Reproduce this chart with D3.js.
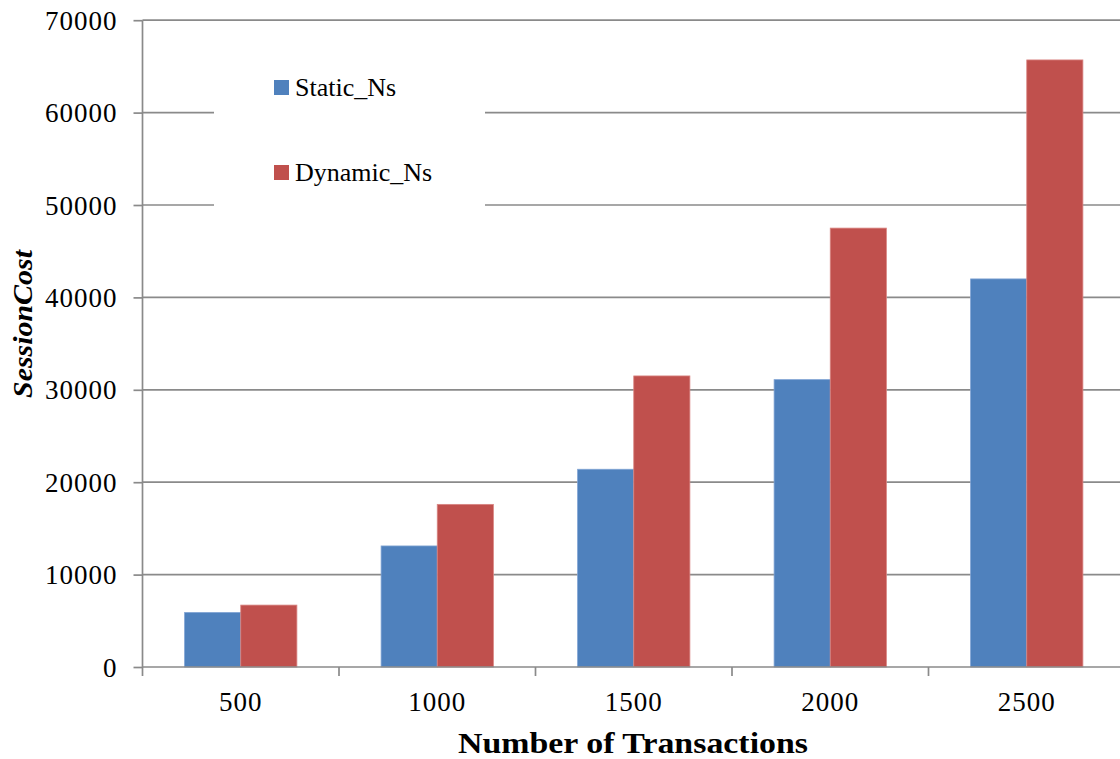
<!DOCTYPE html>
<html>
<head>
<meta charset="utf-8"/>
<title>Session Cost</title>
<style>
  body { margin: 0; background: #fff; }
  text { font-family: "Liberation Serif", serif; fill: #000; }
  .grid line { stroke: #8a8a8a; stroke-width: 1.7px; }
  .axis path, .axis line { stroke: #8a8a8a; stroke-width: 1.7px; }
</style>
</head>
<body>
<svg width="1120" height="759"></svg>
<script src="https://d3js.org/d3.v7.min.js"></script>
<script>
// data
var categories = ["500", "1000", "1500", "2000", "2500"];
var seriesNames = ["Static_Ns", "Dynamic_Ns"];
var staticNs = [5900, 13100, 21400, 31100, 42000];
var dynamicNs = [6700, 17600, 31500, 47500, 65700];
var yTicks = [0, 10000, 20000, 30000, 40000, 50000, 60000, 70000];
var colors = ["#4f81bd", "#c0504d"];

var svg = d3.select("svg");
var plotLeft = 142.5, plotRight = 1125, plotTop = 20.2, plotBottom = 667;

var x = d3.scaleBand().domain(categories).range([plotLeft, plotRight]).paddingInner(0).paddingOuter(0);
// Excel gap width 150%: bars take 2 / 3.5 of each band
var inner = x.bandwidth() * 2 / 3.5;
var xs = d3.scaleBand().domain(seriesNames).range([0, inner]);
var y = d3.scaleLinear().domain([0, 70000]).range([plotBottom, plotTop]);

// gridlines
svg.append("g").attr("class", "grid")
  .selectAll("line").data(yTicks.filter(d => d > 0)).enter().append("line")
  .attr("x1", plotLeft).attr("x2", 1120)
  .attr("y1", d => y(d)).attr("y2", d => y(d));

// bars
var rows = categories.map((c, i) => ({cat: c, vals: [staticNs[i], dynamicNs[i]]}));
var groups = svg.append("g").selectAll("g").data(rows).enter().append("g")
  .attr("transform", d => "translate(" + (x(d.cat) + (x.bandwidth() - inner) / 2) + ",0)");
groups.selectAll("rect").data(d => d.vals.map((v, j) => ({name: seriesNames[j], v: v, j: j})))
  .enter().append("rect")
  .attr("x", d => xs(d.name))
  .attr("width", xs.bandwidth())
  .attr("y", d => y(d.v))
  .attr("height", d => plotBottom - y(d.v))
  .attr("fill", d => colors[d.j])
  .attr("stroke", d => d.j == 0 ? "#7fa3d3" : "#d98582")
  .attr("stroke-width", 0.8);

// y axis
var yAxis = svg.append("g").attr("class", "axis")
  .attr("transform", "translate(" + plotLeft + ",0)")
  .call(d3.axisLeft(y).tickValues(yTicks).tickSize(9).tickSizeOuter(0).tickPadding(16).tickFormat(d3.format("d")));
yAxis.select(".domain").attr("d", "M0," + plotTop + "V" + plotBottom);
yAxis.selectAll("text").attr("font-size", 27).attr("font-family", "Liberation Serif").attr("letter-spacing", 1).attr("dy", "0.34em");

// x axis
var xAxis = svg.append("g").attr("class", "axis")
  .attr("transform", "translate(0," + plotBottom + ")")
  .call(d3.axisBottom(x).tickSize(0).tickPadding(25));
xAxis.select(".domain").attr("d", "M" + plotLeft + ",0H1120");
xAxis.selectAll("text").attr("font-size", 27).attr("font-family", "Liberation Serif").attr("letter-spacing", 1);
// boundary ticks between categories
xAxis.append("g").selectAll("line")
  .data(categories).enter().append("line")
  .attr("x1", d => x(d)).attr("x2", d => x(d))
  .attr("y1", 0).attr("y2", 9);

// axis titles
svg.append("text")
  .attr("x", 633).attr("y", 753)
  .attr("text-anchor", "middle")
  .attr("font-size", 30).attr("font-weight", "bold")
  .attr("textLength", 350).attr("lengthAdjust", "spacingAndGlyphs")
  .text("Number of Transactions");

svg.append("text")
  .attr("transform", "translate(32,324) rotate(-90)")
  .attr("text-anchor", "middle")
  .attr("font-size", 28).attr("font-weight", "bold").attr("font-style", "italic")
  .attr("textLength", 148).attr("lengthAdjust", "spacingAndGlyphs")
  .text("SessionCost");

// legend
var legend = svg.append("g");
legend.append("rect").attr("x", 214).attr("y", 45).attr("width", 271).attr("height", 180).attr("fill", "#fff");
var items = legend.selectAll("g.item").data(seriesNames).enter().append("g")
  .attr("class", "item")
  .attr("transform", (d, i) => "translate(274," + (80 + i * 85) + ")");
items.append("rect").attr("width", 15).attr("height", 15).attr("fill", (d, i) => colors[i]);
items.append("text").attr("x", 21).attr("y", 16).attr("font-size", 26).text(d => d);
</script>
</body>
</html>
